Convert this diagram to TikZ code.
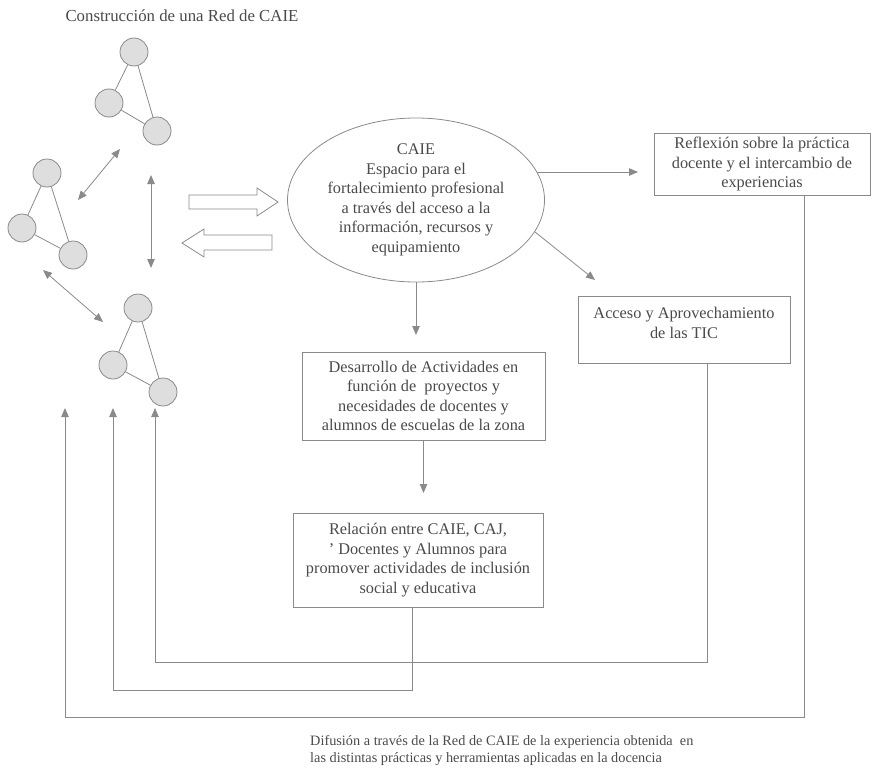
\documentclass[tikz,border=0pt]{standalone}
\usepackage{fontspec}
\setmainfont{Liberation Serif}
\usetikzlibrary{arrows.meta,shapes.geometric}
\definecolor{ink}{HTML}{4A4A4A}
\definecolor{wire}{HTML}{8A8A8A}
\definecolor{dotfill}{HTML}{DEDEDE}
\begin{document}
\begin{tikzpicture}[x=1pt,y=-1pt,
  every node/.style={text=ink, font=\fontsize{16.3}{19.5}\selectfont},
  wire/.style={draw=wire, line width=0.8pt},
  arr/.style={wire, -{Triangle[length=9pt,width=7.5pt]}},
  darr/.style={wire, {Triangle[length=9pt,width=7.5pt]}-{Triangle[length=9pt,width=7.5pt]}},
  peer/.style={circle, draw=wire, fill=dotfill, minimum size=28pt, inner sep=0pt, line width=0.8pt},
  card/.style={draw=wire, line width=0.8pt, align=center, inner sep=0pt},
  blockarrow/.style={draw=wire, fill=white, line width=0.8pt, line join=miter}
]
\useasboundingbox (0,0) rectangle (875,776);

% title
\node[anchor=west, font=\fontsize{16.8}{19.5}\selectfont] (title) at (62,16) {Construcción de una Red de CAIE};

% three small networks of peers
\node[peer] (a1) at (134,52) {};
\node[peer] (b1) at (109,103) {};
\node[peer] (c1) at (157,131) {};
\draw[wire] (a1) -- (b1) (a1) -- (c1) (b1) -- (c1);

\node[peer] (a2) at (47,173) {};
\node[peer] (b2) at (22,228) {};
\node[peer] (c2) at (73,255) {};
\draw[wire] (a2) -- (b2) (a2) -- (c2) (b2) -- (c2);

\node[peer] (a3) at (138,308) {};
\node[peer] (b3) at (113,365) {};
\node[peer] (c3) at (163,392) {};
\draw[wire] (a3) -- (b3) (a3) -- (c3) (b3) -- (c3);

% exchanges between the networks
\coordinate (d1a) at (120,149);
\coordinate (d1b) at (78,200);
\coordinate (d2a) at (151,175);
\coordinate (d2b) at (151,268);
\coordinate (d3a) at (43,270);
\coordinate (d3b) at (103,322);
\draw[darr] (d1a) -- (d1b);
\draw[darr] (d2a) -- (d2b);
\draw[darr] (d3a) -- (d3b);

% hollow block arrows towards and from the centre
\draw[blockarrow] (189,195) -- (257,195) -- (257,188) -- (278,202) -- (257,216) -- (257,209) -- (189,209) -- cycle;
\draw[blockarrow] (272,235) -- (204,235) -- (204,229) -- (182,243) -- (204,257) -- (204,250) -- (272,250) -- cycle;

% central ellipse
\node[ellipse, draw=wire, line width=0.8pt, minimum width=257pt, minimum height=164pt,
      inner sep=0pt, align=center] (caie) at (416,200)
  {CAIE\\Espacio para el\\fortalecimiento profesional\\a través del acceso a la\\información, recursos y\\equipamiento};

% boxes
\node[card, minimum width=216pt, minimum height=62pt] (refl) at (762,164)
  {Reflexión sobre la práctica\\docente y el intercambio de\\experiencias};
\node[card, minimum width=212pt, minimum height=67pt] (tic) at (684,329.5) {};
\node[align=center, inner sep=0pt] (tictext) at (684,323) {Acceso y Aprovechamiento\\de las TIC};
\node[card, minimum width=243pt, minimum height=88pt] (dsar) at (423.5,396)
  {Desarrollo de Actividades en\\función de\ \ proyectos y\\necesidades de docentes y\\alumnos de escuelas de la zona};
\node[card, minimum width=250pt, minimum height=94pt] (rela) at (418,560)
  {Relación entre CAIE, CAJ,\\' Docentes y Alumnos para\\promover actividades de inclusión\\social y educativa};

% arrows leaving the ellipse
\coordinate (rtip) at (638,173);
\coordinate (ttip) at (595,280);
\coordinate (dtip) at (416,335);
\coordinate (etip) at (423.5,493);
\draw[arr] (caie.13) -- (caie.13 -| rtip);
\draw[arr] (caie.-15) -- (ttip);
\draw[arr] (caie.south) -- (dtip);
\draw[arr] (dsar.south) -- (etip);

% feedback loops back to the networks
\coordinate (loopA) at (65,717);
\coordinate (tipA) at (65,408);
\coordinate (loopB) at (113,690);
\coordinate (tipB) at (113,408);
\coordinate (loopC) at (155,662);
\coordinate (tipC) at (155,408);
\draw[arr] ([xshift=42pt]refl.south) |- (loopA) -- (tipA);
\draw[arr] ([xshift=-6pt]rela.south) |- (loopB) -- (tipB);
\draw[arr] ([xshift=23pt]tic.south) |- (loopC) -- (tipC);

% closing caption
\node[anchor=north west, align=left, inner sep=0pt, font=\fontsize{14.3}{17}\selectfont] (difu) at (310,735)
  {Difusión a través de la Red de CAIE de la experiencia obtenida\ \ en\\las distintas prácticas y herramientas aplicadas en la docencia};
\end{tikzpicture}
\end{document}
